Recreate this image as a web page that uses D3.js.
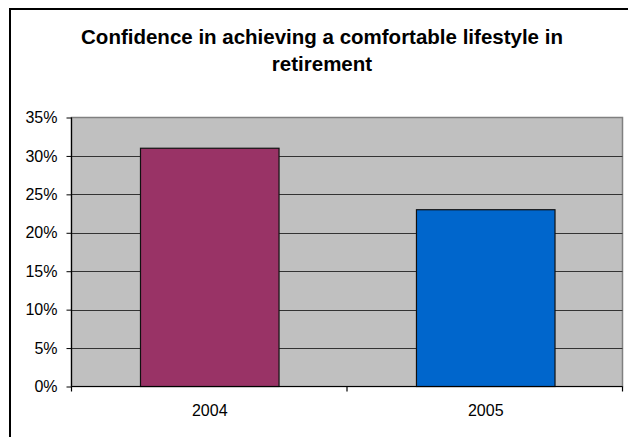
<!DOCTYPE html>
<html>
<head>
<meta charset="utf-8">
<script src="https://cdn.jsdelivr.net/npm/d3@7"></script>
<style>
  html, body { margin: 0; padding: 0; background: #fff; }
  svg { display: block; font-family: "Liberation Sans", Arial, sans-serif; }
</style>
</head>
<body>
<svg id="chart" width="628" height="437"></svg>
<script>
const categories = ["2004", "2005"];
const values = [0.31, 0.23];
const barColors = ["#993366", "#0066CC"];
const yTicks = [0, 0.05, 0.10, 0.15, 0.20, 0.25, 0.30, 0.35];
const titleLines = ["Confidence in achieving a comfortable lifestyle in", "retirement"];

const svg = d3.select("#chart");

// outer frame (extends past right/bottom edges)
svg.append("rect").attr("x", 10).attr("y", 9).attr("width", 700).attr("height", 500)
  .attr("fill", "#fff").attr("stroke", "#000").attr("stroke-width", 2);

const m = { left: 71.5, right: 622.5, top: 117.5, bottom: 386.5 };

const x = d3.scaleBand().domain(categories).range([m.left, 624]).paddingInner(0.498).paddingOuter(0.25);
const y = d3.scaleLinear().domain([0, 0.35]).range([m.bottom, m.top]);

// plot background
svg.append("rect").attr("x", m.left).attr("y", m.top)
  .attr("width", m.right - m.left).attr("height", m.bottom - m.top)
  .attr("fill", "#C0C0C0").attr("stroke", "#808080").attr("stroke-width", 1.5);

// gridlines
svg.append("g").selectAll("line").data(yTicks.slice(1, -1)).join("line")
  .attr("x1", m.left).attr("x2", m.right)
  .attr("y1", d => Math.round(y(d)) + 0.5).attr("y2", d => Math.round(y(d)) + 0.5)
  .attr("stroke", "#333").attr("stroke-width", 1.2);

// bars
svg.append("g").selectAll("rect").data(categories).join("rect")
  .attr("x", d => x(d)).attr("width", x.bandwidth())
  .attr("y", (d, i) => y(values[i])).attr("height", (d, i) => y(0) - y(values[i]))
  .attr("fill", (d, i) => barColors[i]).attr("stroke", "#111").attr("stroke-width", 1.2);

// y axis
const yAxis = d3.axisLeft(y).tickValues(yTicks).tickFormat(d3.format(".0%")).tickSize(5).tickPadding(9);
const gy = svg.append("g").attr("transform", `translate(${m.left},0)`).call(yAxis);
gy.select(".domain").attr("stroke", "#000").attr("stroke-width", 1.2).attr("d", `M0,${m.top}V${m.bottom}`);
gy.selectAll(".tick line").attr("stroke", "#000");
gy.selectAll(".tick text").attr("font-size", 16).attr("fill", "#000")
  .attr("font-family", "'Liberation Sans', Arial, sans-serif");

// x axis
const xAxis = d3.axisBottom(x).tickSize(0).tickPadding(18);
const gx = svg.append("g").attr("transform", `translate(0,${m.bottom})`).call(xAxis);
gx.select(".domain").attr("stroke", "#000").attr("stroke-width", 1.2).attr("d", `M${m.left},0H${m.right}`);
gx.selectAll(".tick text").attr("font-size", 16).attr("fill", "#000")
  .attr("font-family", "'Liberation Sans', Arial, sans-serif");
// boundary ticks between categories
const bounds = d3.range(categories.length + 1).map(i => m.left + (m.right - m.left) * i / categories.length);
gx.append("g").selectAll("line").data(bounds).join("line")
  .attr("x1", d => d).attr("x2", d => d).attr("y1", 0).attr("y2", 5)
  .attr("stroke", "#000").attr("stroke-width", 1.2);

// title
const title = svg.append("text").attr("text-anchor", "middle")
  .attr("font-size", 20.5).attr("font-weight", "bold").attr("fill", "#000")
  .attr("font-family", "'Liberation Sans', Arial, sans-serif");
titleLines.forEach((t, i) => {
  title.append("tspan").attr("x", 322).attr("y", 43.5 + i * 27).text(t);
});
</script>
</body>
</html>
